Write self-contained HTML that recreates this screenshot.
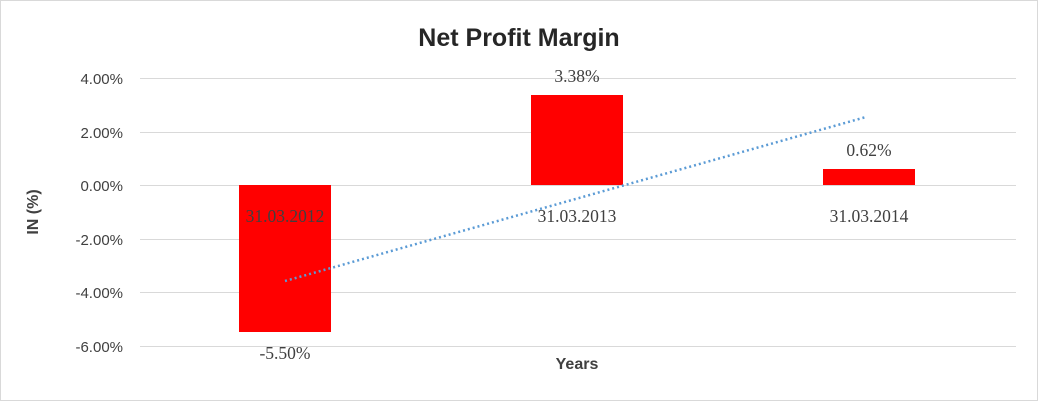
<!DOCTYPE html>
<html><head><style>
body{margin:0;background:#fff;}
svg{display:block;font-family:"Liberation Sans",sans-serif;}
</style></head><body>
<svg width="1038" height="401" viewBox="0 0 1038 401">
<rect x="0.5" y="0.5" width="1037" height="400" fill="#fff" stroke="#d9d9d9"/>
<text x="519" y="46" text-anchor="middle" font-size="25" font-weight="bold" fill="#262626">Net Profit Margin</text>
<g stroke="#d9d9d9" stroke-width="1">
<line x1="140" x2="1016" y1="78.5" y2="78.5"/>
<line x1="140" x2="1016" y1="132.5" y2="132.5"/>
<line x1="140" x2="1016" y1="185.5" y2="185.5"/>
<line x1="140" x2="1016" y1="239.5" y2="239.5"/>
<line x1="140" x2="1016" y1="292.5" y2="292.5"/>
<line x1="140" x2="1016" y1="346.5" y2="346.5"/>
</g>
<g font-size="15" fill="#404040" text-anchor="end">
<text x="123" y="84">4.00%</text>
<text x="123" y="138">2.00%</text>
<text x="123" y="191">0.00%</text>
<text x="123" y="245">-2.00%</text>
<text x="123" y="298">-4.00%</text>
<text x="123" y="352">-6.00%</text>
</g>
<text transform="translate(38,212) rotate(-90)" text-anchor="middle" font-size="16" font-weight="bold" fill="#404040">IN (%)</text>
<rect x="239" y="185" width="92" height="147" fill="#ff0000"/>
<rect x="531" y="95" width="92" height="90" fill="#ff0000"/>
<rect x="823" y="169" width="92" height="16" fill="#ff0000"/>
<line x1="285" y1="281" x2="866" y2="117" stroke="#5b9bd5" stroke-width="2.5" stroke-dasharray="2,3"/>
<g font-family="Liberation Serif,serif" font-size="17.5" fill="#404040" text-anchor="middle">
<text x="285" y="222">31.03.2012</text>
<text x="577" y="222">31.03.2013</text>
<text x="869" y="222">31.03.2014</text>
<text x="285" y="359">-5.50%</text>
<text x="577" y="82">3.38%</text>
<text x="869" y="156">0.62%</text>
</g>
<text x="577" y="369" text-anchor="middle" font-size="16" font-weight="bold" fill="#404040">Years</text>
</svg>
</body></html>
